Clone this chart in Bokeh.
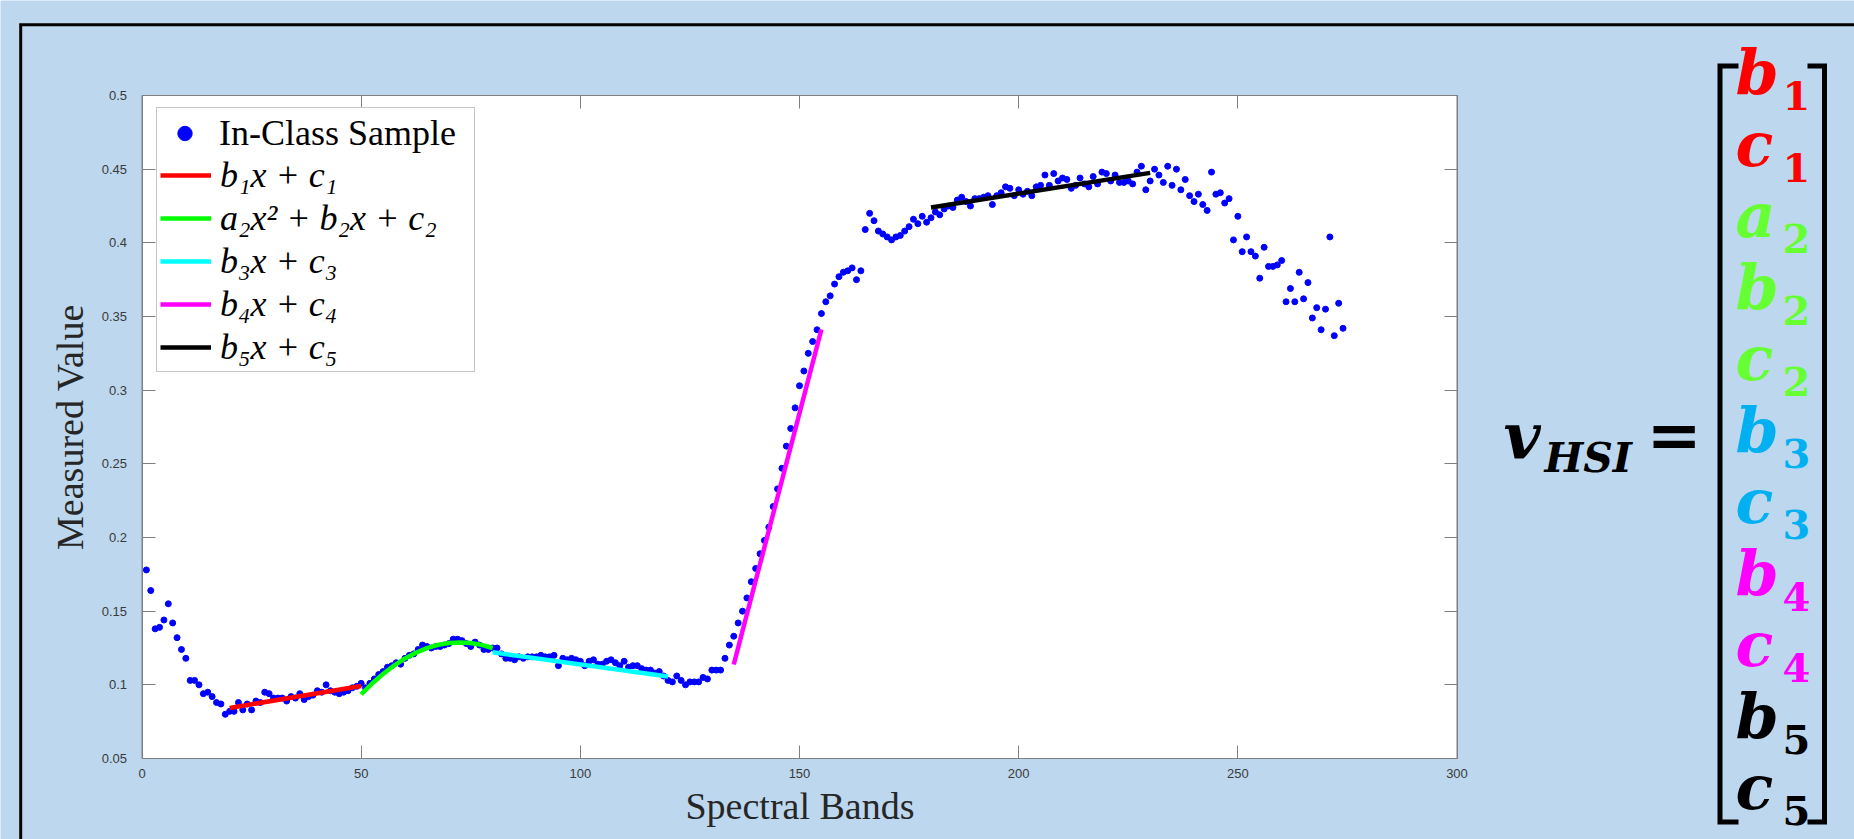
from bokeh.plotting import figure
from bokeh.models import (Legend, LegendItem, FixedTicker, LinearAxis, Range1d)
from bokeh.core.properties import value
from bokeh.embed import file_html
from bokeh.resources import INLINE

# ---------------- data ----------------
BANDS = list(range(1, 275))
VALUES = [
    0.178, 0.164, 0.138, 0.139, 0.144, 0.155, 0.142, 0.132, 0.124, 0.118,
    0.103, 0.103, 0.100, 0.094, 0.095, 0.092, 0.088, 0.087, 0.080, 0.082,
    0.082, 0.088, 0.083, 0.087, 0.083, 0.089, 0.088, 0.095, 0.094, 0.091,
    0.091, 0.091, 0.089, 0.092, 0.091, 0.094, 0.090, 0.092, 0.093, 0.096,
    0.095, 0.100, 0.096, 0.095, 0.094, 0.095, 0.096, 0.098, 0.099, 0.101,
    0.098, 0.101, 0.104, 0.107, 0.109, 0.112, 0.113, 0.115, 0.114, 0.118,
    0.120, 0.121, 0.124, 0.127, 0.126, 0.125, 0.126, 0.126, 0.127, 0.128,
    0.131, 0.131, 0.130, 0.128, 0.126, 0.129, 0.127, 0.124, 0.124, 0.125,
    0.125, 0.121, 0.118, 0.118, 0.117, 0.119, 0.118, 0.119, 0.119, 0.119,
    0.120, 0.119, 0.119, 0.120, 0.113, 0.118, 0.117, 0.118, 0.117, 0.116,
    0.113, 0.116, 0.117, 0.114, 0.114, 0.116, 0.117, 0.115, 0.113, 0.116,
    0.112, 0.113, 0.113, 0.111, 0.110, 0.110, 0.108, 0.109, 0.106, 0.103,
    0.102, 0.106, 0.103, 0.100, 0.102, 0.102, 0.102, 0.105, 0.104, 0.110,
    0.110, 0.110, 0.118, 0.127, 0.133, 0.142, 0.150, 0.159, 0.170, 0.179,
    0.189, 0.198, 0.207, 0.221, 0.233, 0.247, 0.262, 0.274, 0.288, 0.303,
    0.313, 0.325, 0.333, 0.341, 0.352, 0.360, 0.364, 0.372, 0.377, 0.380,
    0.381, 0.383, 0.375, 0.381, 0.409, 0.420, 0.415, 0.408, 0.406, 0.404,
    0.402, 0.404, 0.405, 0.408, 0.411, 0.416, 0.413, 0.418, 0.414, 0.417,
    0.421, 0.419, 0.423, 0.425, 0.424, 0.429, 0.431, 0.428, 0.425, 0.430,
    0.430, 0.431, 0.432, 0.426, 0.432, 0.434, 0.438, 0.437, 0.432, 0.436,
    0.433, 0.435, 0.432, 0.438, 0.439, 0.446, 0.439, 0.447, 0.442, 0.444,
    0.443, 0.437, 0.439, 0.444, 0.440, 0.438, 0.445, 0.440, 0.448, 0.447,
    0.442, 0.446, 0.441, 0.441, 0.442, 0.440, 0.448, 0.452, 0.436, 0.442,
    0.450, 0.446, 0.441, 0.452, 0.439, 0.450, 0.436, 0.443, 0.432, 0.428,
    0.433, 0.426, 0.422, 0.448, 0.433, 0.434, 0.427, 0.430, 0.402, 0.418,
    0.394, 0.404, 0.394, 0.391, 0.376, 0.397, 0.384, 0.384, 0.385, 0.388,
    0.360, 0.369, 0.360, 0.380, 0.362, 0.373, 0.349, 0.356, 0.341, 0.355,
    0.404, 0.337, 0.359, 0.342,
]

# fitted segments
FIT1_X = [20, 50]
FIT1_Y = [0.0843, 0.0992]
FIT2_X = [50, 52.5, 55, 57.5, 60, 62.5, 65, 67.5, 70, 72.5, 75, 77.5, 80]
FIT2_Y = [0.0935, 0.1009, 0.1074, 0.1131, 0.1179, 0.1218, 0.1249, 0.1271,
          0.1284, 0.1288, 0.1284, 0.1271, 0.1250]
FIT3_X = [80, 120]
FIT3_Y = [0.1221, 0.1056]
FIT4_X = [135, 155]
FIT4_Y = [0.1138, 0.3412]
FIT5_X = [180, 230]
FIT5_Y = [0.4240, 0.4475]

FIT_COLORS = ["#FF0000", "#00FF00", "#00FFFF", "#FF00FF", "#000000"]
LEGEND_LABELS = ["In-Class Sample", "b\u2081x + c\u2081",
                 "a\u2082x\u00b2 + b\u2082x + c\u2082",
                 "b\u2083x + c\u2083", "b\u2084x + c\u2084", "b\u2085x + c\u2085"]

X_TICKS = [0, 50, 100, 150, 200, 250, 300]
X_TICK_LABELS = ["0", "50", "100", "150", "200", "250", "300"]
Y_TICKS = [0.05, 0.1, 0.15, 0.2, 0.25, 0.3, 0.35, 0.4, 0.45, 0.5]
Y_TICK_LABELS = ["0.05", "0.1", "0.15", "0.2", "0.25", "0.3", "0.35", "0.4",
                 "0.45", "0.5"]
X_LIMITS = (0, 300)
Y_LIMITS = (0.05, 0.5)
X_LABEL = "Spectral Bands"
Y_LABEL = "Measured Value"

VEC_LETTERS = ["b", "c", "a", "b", "c", "b", "c", "b", "c", "b", "c"]
VEC_SUBS = ["1", "1", "2", "2", "2", "3", "3", "4", "4", "5", "5"]
VEC_COLORS = ["#FF0000", "#FF0000", "#66FF33", "#66FF33", "#66FF33",
              "#00B0F0", "#00B0F0", "#FF00FF", "#FF00FF", "#000000", "#000000"]

# ---------------- layout (canvas pixels) ----------------
BG = "#BDD7EE"
AX = "#7F7F7F"
TICK_TXT = "#3A3A3A"
W, H = 1854, 839
FL, FT, FR, FB = 141.5, 95.0, 1456.5, 758.0       # chart box in canvas px

kx = (FR - FL) / (X_LIMITS[1] - X_LIMITS[0])
ky = (FB - FT) / (Y_LIMITS[1] - Y_LIMITS[0])
band_range = Range1d(X_LIMITS[0] - FL / kx, X_LIMITS[1] + (W - FR) / kx)
val_range = Range1d(Y_LIMITS[0] - (H - FB) / ky, Y_LIMITS[1] + FT / ky)

p = figure(width=W, height=H, output_backend="svg", toolbar_location=None,
           x_range=Range1d(0, W), y_range=Range1d(H, 0),
           x_axis_location=None, y_axis_location=None, min_border=0,
           background_fill_color=BG, border_fill_color=BG,
           outline_line_color=None)
p.extra_x_ranges = {"band": band_range}
p.extra_y_ranges = {"val": val_range}
for g in p.grid:
    g.visible = False

RN = dict(x_range_name="band", y_range_name="val")

# white chart area
p.quad(left=[X_LIMITS[0]], right=[X_LIMITS[1]], bottom=[Y_LIMITS[0]],
       top=[Y_LIMITS[1]], fill_color="white", line_color=AX, line_width=1, **RN)


def make_axis(place, loc, bounds, ticks, labels, show):
    ax = LinearAxis(fixed_location=loc, bounds=bounds, **RN)
    ax.ticker = FixedTicker(ticks=ticks)
    ax.major_label_overrides = dict(zip(ticks, labels if show else [""] * len(ticks)))
    ax.major_tick_in = 13
    ax.major_tick_out = 0
    ax.minor_tick_in = 0
    ax.minor_tick_out = 0
    ax.axis_line_color = AX
    ax.major_tick_line_color = AX
    ax.major_label_text_font = "Liberation Sans"
    ax.major_label_text_font_size = "13px"
    ax.major_label_text_color = TICK_TXT
    p.add_layout(ax, place)
    return ax


xb = make_axis("below", Y_LIMITS[0], X_LIMITS, X_TICKS, X_TICK_LABELS, True)
yl = make_axis("left", X_LIMITS[0], Y_LIMITS, Y_TICKS, Y_TICK_LABELS, True)
make_axis("above", Y_LIMITS[1], X_LIMITS, X_TICKS, X_TICK_LABELS, False)
make_axis("right", X_LIMITS[1], Y_LIMITS, Y_TICKS, Y_TICK_LABELS, False)

for ax, lab, lstand, astand in ((xb, X_LABEL, 10, 4), (yl, Y_LABEL, 15, 8)):
    ax.axis_label = lab
    ax.axis_label_text_font = "Liberation Serif"
    ax.axis_label_text_font_size = "38px"
    ax.axis_label_text_font_style = "normal"
    ax.axis_label_text_color = "#262626"
    ax.major_label_standoff = lstand
    ax.axis_label_standoff = astand

# ---------------- data glyphs ----------------
sc = p.scatter(BANDS, VALUES, marker="circle", size=6,
               fill_color="#0000FF", line_color="#0000FF", **RN)
fits = []
for fx, fy, col in zip([FIT1_X, FIT2_X, FIT3_X, FIT4_X, FIT5_X],
                       [FIT1_Y, FIT2_Y, FIT3_Y, FIT4_Y, FIT5_Y], FIT_COLORS):
    fits.append(p.line(fx, fy, line_color=col, line_width=4.5, **RN))

# ---------------- legend ----------------
LEG_FS = 36
LEG_SP = 1
LEG_PAD = 3
ROW_H = 1.173 * LEG_FS          # measured item height
TITLE_H = 1.135 * LEG_FS        # measured title height
LEG_LEFT, LEG_TOP = 156, 109
common = dict(padding=LEG_PAD, spacing=LEG_SP, margin=0,
              glyph_width=51, glyph_height=LEG_FS, label_height=LEG_FS,
              label_width=251, label_standoff=9,
              label_text_font="Liberation Serif",
              label_text_font_size=f"{LEG_FS}px", label_text_color="#000000")
hB = 2 * LEG_PAD + TITLE_H + LEG_SP + 5 * ROW_H + 4 * LEG_SP
hA = 2 * LEG_PAD + ROW_H
legB = Legend(items=[LegendItem(label=LEGEND_LABELS[i + 1], renderers=[fits[i]])
                     for i in range(5)],
              location=(LEG_LEFT, H - LEG_TOP - hB),
              title=" ", title_text_font="Liberation Serif",
              title_text_font_size=f"{LEG_FS}px", title_standoff=LEG_SP,
              label_text_font_style="italic",
              border_line_color="#8C8C8C", border_line_width=1,
              background_fill_color="white", background_fill_alpha=1, **common)
legA = Legend(items=[LegendItem(label=LEGEND_LABELS[0], renderers=[sc])],
              location=(LEG_LEFT, H - LEG_TOP - hA),
              label_text_font_style="normal",
              border_line_alpha=0, background_fill_alpha=0, **common)
p.add_layout(legB)
p.add_layout(legA)

# ---------------- outer frame (canvas px) ----------------
p.line([20.2, 20.2, W + 20], [H + 20, 24.2, 24.2], line_color="black",
       line_width=3, line_join="miter")

# ---------------- coefficient vector (canvas px) ----------------
BR_T, BR_B = 65.5, 821.5
p.line([1738, 1719.5, 1719.5, 1738], [BR_T, BR_T, BR_B, BR_B],
       line_color="black", line_width=5, line_join="miter")
p.line([1807, 1824, 1824, 1807], [BR_T, BR_T, BR_B, BR_B],
       line_color="black", line_width=5, line_join="miter")

BASE_SHIFT = 0.415   # rendered baseline sits this many ems below the anchor
VF = value("DejaVu Serif")
LET_FS, SUB_FS = 62, 40
row_base = [98 + 71.5 * i for i in range(len(VEC_LETTERS))]
p.text(x=[1735] * len(VEC_LETTERS),
       y=[b - BASE_SHIFT * LET_FS for b in row_base], text=VEC_LETTERS,
       text_color=VEC_COLORS, text_font=VF, text_font_size=value(f"{LET_FS}px"),
       text_font_style="bold italic", text_align="left",
       text_baseline="alphabetic")
p.text(x=[1782] * len(VEC_SUBS),
       y=[b + 14 - BASE_SHIFT * SUB_FS for b in row_base], text=VEC_SUBS,
       text_color=VEC_COLORS, text_font=VF, text_font_size=value(f"{SUB_FS}px"),
       text_font_style="bold", text_align="left", text_baseline="alphabetic")

p.text(x=[1503], y=[462 - BASE_SHIFT * 64], text=["v"], text_color="black",
       text_font=VF, text_font_size=value("64px"),
       text_font_style="bold italic", text_align="left",
       text_baseline="alphabetic")
p.text(x=[1544], y=[475 - BASE_SHIFT * 41], text=["HSI"], text_color="black",
       text_font=VF, text_font_size=value("41px"),
       text_font_style="bold italic", text_align="left",
       text_baseline="alphabetic")
p.text(x=[1646], y=[462 - BASE_SHIFT * 66], text=["="], text_color="black",
       text_font=VF, text_font_size=value("66px"), text_font_style="bold",
       text_align="left", text_baseline="alphabetic")

open("out.html", "w").write(file_html(p, INLINE))
